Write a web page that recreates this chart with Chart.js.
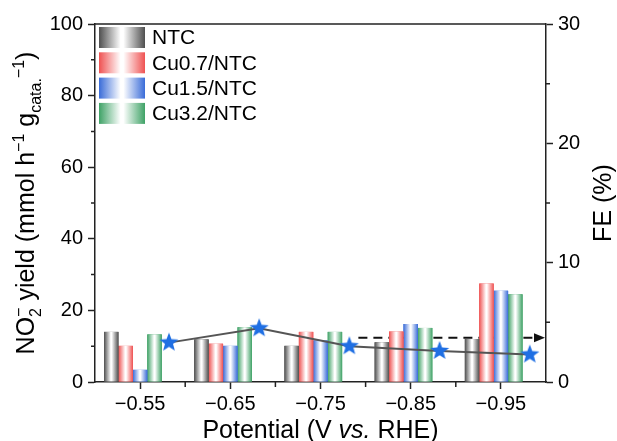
<!DOCTYPE html>
<html>
<head>
<meta charset="utf-8">
<script src="https://cdn.jsdelivr.net/npm/chart.js@4.4.0/dist/chart.umd.min.js"></script>
<style>
  html, body { margin: 0; padding: 0; background: #fff; }
  canvas { display: block; }
</style>
</head>
<body>
<canvas id="chart" width="617" height="441"></canvas>
<script>
// Applied potentials (V vs. RHE)
const potentials = ['\u22120.55', '\u22120.65', '\u22120.75', '\u22120.85', '\u22120.95'];

// Catalyst series
const seriesNames = ['NTC', 'Cu0.7/NTC', 'Cu1.5/NTC', 'Cu3.2/NTC'];

// NO2- yield, mmol h-1 g-1 (left axis)
const ntcYield  = [14.0, 11.9, 10.1, 11.1, 12.0];
const cu07Yield = [10.1, 10.7, 14.0, 14.1, 27.5];
const cu15Yield = [3.4, 10.1, 11.6, 16.2, 25.5];
const cu32Yield = [13.3, 15.3, 14.0, 15.1, 24.5];

// Faradaic efficiency, % (right axis)
const feValues = [3.3, 4.5, 3.0, 2.6, 2.3];

// Axis ranges / tick steps
const yieldRange = [0, 100];
const yieldStep = 20;
const feRange = [0, 30];
const feStep = 10;

// Dashed arrow pointing the FE curve to its axis
const arrowFE = 3.7;
const arrowFrom = 2.42; // in potential-index units

const seriesColors = ['#4f4f4f', '#ef5252', '#3a6cd8', '#3fa266'];
const starColor = '#1f6fe3';
const FONT = "'Liberation Sans', Arial, sans-serif";

// Each potential holds 4 bars plus a fifth slot where the FE star sits
const CAT_PCT = 0.8;
const SLOTS = 5;
const feOffset = ((SLOTS - 1) / 2) * CAT_PCT / SLOTS;

function makeStar(r, color) {
  const c = document.createElement('canvas');
  const s = Math.ceil(r * 2 + 2);
  c.width = s; c.height = s;
  const g = c.getContext('2d');
  g.translate(s / 2, s / 2);
  g.beginPath();
  for (let k = 0; k < 10; k++) {
    const rad = k % 2 === 0 ? r : r * 0.42;
    const a = -Math.PI / 2 + k * Math.PI / 5;
    g.lineTo(rad * Math.cos(a), rad * Math.sin(a));
  }
  g.closePath();
  g.fillStyle = color;
  g.fill();
  return c;
}
const star = makeStar(10, starColor);

function barGradient(ctx, left, width, color) {
  const gr = ctx.createLinearGradient(left, 0, left + width, 0);
  gr.addColorStop(0, color);
  gr.addColorStop(0.47, '#ffffff');
  gr.addColorStop(0.53, '#ffffff');
  gr.addColorStop(1, color);
  return gr;
}

// Draws rich text (sub/superscripts) along the baseline starting at x
function drawRich(ctx, parts, size, x) {
  const small = Math.round(size * 0.62);
  let cx = x;
  for (const p of parts) {
    if (p.stack) {
      ctx.font = `${small}px ${FONT}`;
      ctx.fillText(p.sub, cx, size * 0.28);
      ctx.fillText(p.sup, cx, -size * 0.42);
      cx += Math.max(ctx.measureText(p.sub).width, ctx.measureText(p.sup).width);
      continue;
    }
    const sz = p.kind ? small : size;
    ctx.font = `${p.italic ? 'italic ' : ''}${sz}px ${FONT}`;
    const dy = p.kind === 'sub' ? size * 0.28 : p.kind === 'sup' ? -size * 0.42 : 0;
    ctx.fillText(p.t, cx, dy);
    cx += ctx.measureText(p.t).width;
  }
  return cx - x;
}
function richWidth(ctx, parts, size) {
  ctx.save();
  ctx.globalAlpha = 0;
  const w = drawRich(ctx, parts, size, 0);
  ctx.restore();
  return w;
}

const leftTitle = [
  { t: 'NO' },
  { stack: true, sub: '2', sup: '\u2212' },
  { t: ' yield (mmol h' },
  { t: '\u22121', kind: 'sup' },
  { t: ' g' },
  { t: 'cata.', kind: 'sub' },
  { t: '\u22121', kind: 'sup' },
  { t: ')' }
];
const bottomTitle = [
  { t: 'Potential (V ' },
  { t: 'vs.', italic: true },
  { t: ' RHE)' }
];
const rightTitle = [{ t: 'FE (%)' }];

const decor = {
  id: 'decor',
  beforeDatasetsDraw(chart) {
    const { ctx, chartArea } = chart;
    const xs = chart.scales.x, ys = chart.scales.y2;
    const y = ys.getPixelForValue(arrowFE);
    const x0 = xs.getPixelForValue(arrowFrom);
    const x1 = chartArea.right - 1;
    ctx.save();
    ctx.strokeStyle = '#111';
    ctx.lineWidth = 2;
    ctx.setLineDash([9, 6]);
    ctx.beginPath();
    ctx.moveTo(x0, y);
    ctx.lineTo(x1 - 10, y);
    ctx.stroke();
    ctx.setLineDash([]);
    ctx.fillStyle = '#111';
    ctx.beginPath();
    ctx.moveTo(x1, y);
    ctx.lineTo(x1 - 11, y - 4.5);
    ctx.lineTo(x1 - 11, y + 4.5);
    ctx.closePath();
    ctx.fill();
    ctx.restore();
  },
  afterDatasetDraw(chart, args) {
    const ds = chart.data.datasets[args.index];
    if (ds.type !== 'bar' || !ds.edgeColor) return;
    const ctx = chart.ctx;
    ctx.save();
    for (const el of args.meta.data) {
      const p = el.getProps(['x', 'y', 'base', 'width'], true);
      if (!isFinite(p.y) || !isFinite(p.base)) continue;
      const left = p.x - p.width / 2;
      ctx.fillStyle = barGradient(ctx, left, p.width, ds.edgeColor);
      ctx.fillRect(left, Math.min(p.y, p.base), p.width, Math.abs(p.base - p.y));
    }
    ctx.restore();
  },
  afterDraw(chart) {
    const { ctx, chartArea } = chart;
    const { left, right, top, bottom } = chartArea;
    ctx.save();
    ctx.strokeStyle = '#222';
    ctx.lineWidth = 1.5;
    // top frame
    ctx.beginPath();
    ctx.moveTo(left, top);
    ctx.lineTo(right, top);
    ctx.stroke();
    // minor ticks
    ctx.beginPath();
    const ys = chart.scales.y, y2 = chart.scales.y2, xs = chart.scales.x;
    for (let v = yieldRange[0] + yieldStep / 2; v < yieldRange[1]; v += yieldStep) {
      const py = ys.getPixelForValue(v);
      ctx.moveTo(left, py); ctx.lineTo(left - 4, py);
    }
    for (let v = feRange[0] + feStep / 2; v < feRange[1]; v += feStep) {
      const py = y2.getPixelForValue(v);
      ctx.moveTo(right, py); ctx.lineTo(right + 4, py);
    }
    for (let i = 0; i < potentials.length - 1; i++) {
      const px = xs.getPixelForValue(i + 0.5);
      ctx.moveTo(px, bottom); ctx.lineTo(px, bottom + 5);
    }
    ctx.stroke();

    // axis titles
    ctx.fillStyle = '#000';
    ctx.textBaseline = 'alphabetic';
    ctx.textAlign = 'left';
    const TS = 25;
    const midY = (top + bottom) / 2;

    let w = richWidth(ctx, bottomTitle, TS);
    ctx.save();
    ctx.translate((left + right) / 2, 438);
    drawRich(ctx, bottomTitle, TS, -w / 2);
    ctx.restore();

    w = richWidth(ctx, leftTitle, TS);
    ctx.save();
    ctx.translate(34, midY);
    ctx.rotate(-Math.PI / 2);
    drawRich(ctx, leftTitle, TS, -w / 2);
    ctx.restore();

    w = richWidth(ctx, rightTitle, TS);
    ctx.save();
    ctx.translate(611, midY);
    ctx.rotate(-Math.PI / 2);
    drawRich(ctx, rightTitle, TS, -w / 2);
    ctx.restore();

    // legend
    const lx = left + 4, ly = top + 3, boxW = 46, boxH = 21, gap = 25.3;
    ctx.font = `21px ${FONT}`;
    ctx.textBaseline = 'middle';
    seriesNames.forEach((name, k) => {
      const by = ly + k * gap;
      ctx.fillStyle = barGradient(ctx, lx, boxW, seriesColors[k]);
      ctx.fillRect(lx, by, boxW, boxH);
      ctx.fillStyle = '#000';
      ctx.fillText(name, lx + boxW + 7, by + boxH / 2 + 1);
    });
    ctx.restore();
  }
};

const yieldSeries = [ntcYield, cu07Yield, cu15Yield, cu32Yield];

const axisCommon = {
  border: { display: true, color: '#222', width: 1.5 },
  grid: { display: true, drawOnChartArea: false, drawTicks: true, tickLength: 7, tickColor: '#222', tickWidth: 1.5, offset: false },
  ticks: { color: '#000', font: { family: FONT, size: 20 } }
};

new Chart(document.getElementById('chart').getContext('2d'), {
  type: 'bar',
  data: {
    datasets: [
      {
        type: 'line',
        label: 'FE',
        data: feValues.map((v, i) => ({ x: i + feOffset, y: v })),
        xAxisID: 'x',
        yAxisID: 'y2',
        borderColor: '#555',
        borderWidth: 2,
        pointStyle: star,
        pointRadius: 10,
        tension: 0,
        order: 0
      },
      ...seriesNames.map((name, k) => ({
        type: 'bar',
        label: name,
        data: yieldSeries[k].map((v, i) => ({ x: i, y: v })),
        edgeColor: seriesColors[k],
        backgroundColor: seriesColors[k],
        borderWidth: 0,
        xAxisID: 'x',
        yAxisID: 'y',
        categoryPercentage: CAT_PCT,
        barPercentage: 1,
        order: 1
      })),
      {
        // keeps the fifth slot of each group free for the FE marker
        type: 'bar',
        label: '',
        data: potentials.map((_, i) => ({ x: i, y: null })),
        xAxisID: 'x',
        yAxisID: 'y',
        categoryPercentage: CAT_PCT,
        barPercentage: 1,
        order: 1
      }
    ]
  },
  options: {
    responsive: false,
    animation: false,
    devicePixelRatio: 1,
    layout: { padding: { top: 24, left: 0, right: 0, bottom: 0 } },
    plugins: { legend: { display: false }, tooltip: { enabled: false } },
    scales: {
      x: {
        type: 'linear',
        position: 'bottom',
        min: -0.5,
        max: potentials.length - 0.5,
        offset: false,
        border: axisCommon.border,
        grid: axisCommon.grid,
        afterBuildTicks: s => { s.ticks = potentials.map((_, i) => ({ value: i })); },
        ticks: {
          ...axisCommon.ticks,
          padding: 3,
          maxRotation: 0,
          autoSkip: false,
          callback: (v) => potentials[Math.round(v)]
        },
        afterFit: s => { s.height = 59; }
      },
      y: {
        type: 'linear',
        position: 'left',
        min: yieldRange[0],
        max: yieldRange[1],
        border: axisCommon.border,
        grid: axisCommon.grid,
        ticks: { ...axisCommon.ticks, stepSize: yieldStep, padding: 5 },
        afterFit: s => { s.width = 95; }
      },
      y2: {
        type: 'linear',
        position: 'right',
        min: feRange[0],
        max: feRange[1],
        border: axisCommon.border,
        grid: axisCommon.grid,
        ticks: { ...axisCommon.ticks, stepSize: feStep, padding: 5 },
        afterFit: s => { s.width = 71; }
      }
    }
  },
  plugins: [decor]
});
</script>
</body>
</html>
